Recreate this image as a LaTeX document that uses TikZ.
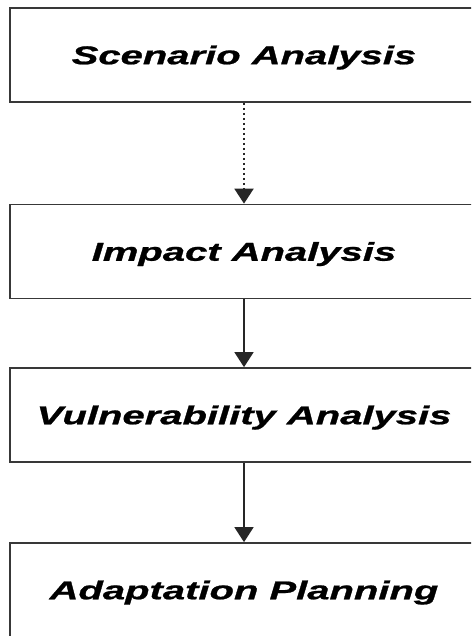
\documentclass[tikz,border=0pt]{standalone}
\usepackage{fontspec}
\usepackage{graphicx}
\setmainfont{Liberation Sans}[BoldItalicFeatures={FakeBold=0.8}]
\usetikzlibrary{arrows.meta}

\tikzset{
  stagebox/.style={draw=black!78, line width=1.7pt, fill=white, rectangle,
    minimum width=468pt, minimum height=94pt, inner sep=0pt,
    text height=18.5pt, text depth=0pt,
    font=\fontsize{25.8}{30}\selectfont\bfseries\itshape},
  flow/.style={draw=black!85, line width=1.5pt,
    -{Triangle[width=19pt,length=15pt]}},
  dotflow/.style={flow, line width=2pt, dash pattern=on 2pt off 3pt},
}
\newcommand{\wide}[1]{\scalebox{1.55}[1]{#1}}

\begin{document}
\begin{tikzpicture}[x=1pt,y=1pt]
  \useasboundingbox (0,0) rectangle (471,-636);
  \fill[white] (0,0) rectangle (471,-636);
  \clip (0,0) rectangle (471,-636);

  \node[stagebox] (scen)  at (244,-55)    {\wide{Scenario Analysis}};
  \node[stagebox] (imp)   at (244,-251.5) {\wide{Impact Analysis}};
  \node[stagebox] (vuln)  at (244,-415)   {\wide{Vulnerability Analysis}};
  \node[stagebox] (adapt) at (244,-590)   {\wide{Adaptation Planning}};

  \draw[dotflow] (scen.south) -- (imp.north);
  \draw[flow] (imp.south) -- (vuln.north);
  \draw[flow] (vuln.south) -- (adapt.north);
\end{tikzpicture}
\end{document}
